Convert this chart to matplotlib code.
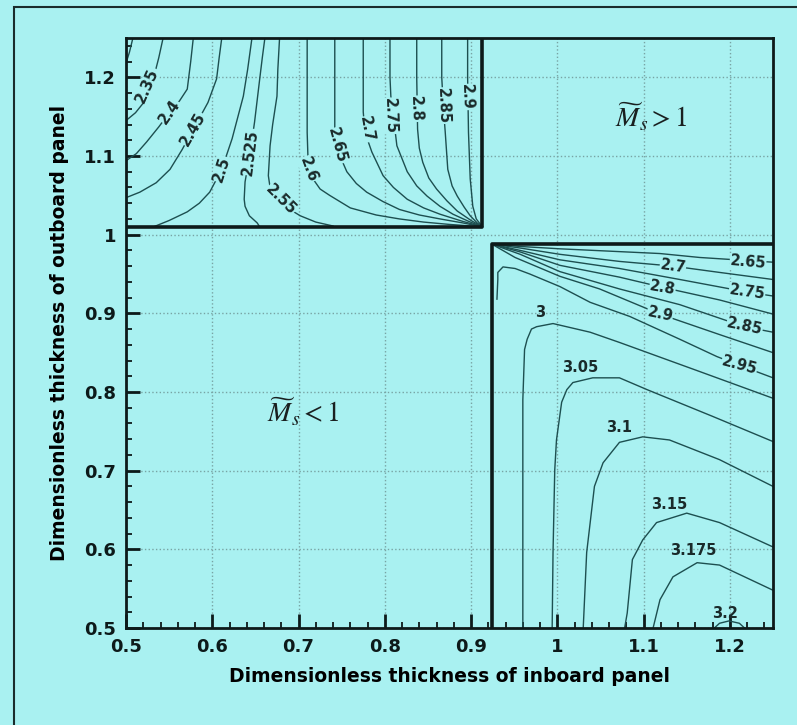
import matplotlib
matplotlib.use("Agg")
import matplotlib.pyplot as plt
from matplotlib.patches import Rectangle
from matplotlib.ticker import MultipleLocator

# --- data -----------------------------------------------------------------
# top-left region (Ms > 1 boundary): x 0.5..0.913, y 1.01..1.25
tl_box_x = [0.5, 0.913, 0.913]
tl_box_y = [1.01, 1.01, 1.25]
tl_levels = [2.3, 2.35, 2.4, 2.45, 2.5, 2.525, 2.55, 2.6, 2.65, 2.7, 2.75, 2.8, 2.85, 2.9]
tl_xs = [
    [0.508, 0.504, 0.500],
    [0.543, 0.538, 0.531, 0.522, 0.511, 0.500],
    [0.578, 0.575, 0.571, 0.562, 0.551, 0.538, 0.524, 0.512, 0.500],
    [0.611, 0.608, 0.605, 0.595, 0.578, 0.565, 0.551, 0.535, 0.516, 0.500],
    [0.646, 0.641, 0.636, 0.623, 0.611, 0.597, 0.585, 0.571, 0.550, 0.532],
    [0.661, 0.658, 0.655, 0.649, 0.644, 0.638, 0.637, 0.638, 0.643, 0.652, 0.655],
    [0.678, 0.676, 0.675, 0.670, 0.667, 0.665, 0.667, 0.675, 0.690, 0.702, 0.720, 0.740],
    [0.710, 0.710, 0.710, 0.711, 0.716, 0.725, 0.736, 0.760, 0.790, 0.817, 0.845, 0.875, 0.913],
    [0.742, 0.742, 0.742, 0.744, 0.750, 0.756, 0.767, 0.779, 0.798, 0.817, 0.840, 0.864, 0.890, 0.913],
    [0.775, 0.775, 0.775, 0.777, 0.785, 0.798, 0.810, 0.826, 0.845, 0.864, 0.890, 0.913],
    [0.806, 0.806, 0.807, 0.810, 0.814, 0.826, 0.837, 0.849, 0.864, 0.879, 0.897, 0.913],
    [0.837, 0.837, 0.838, 0.840, 0.844, 0.851, 0.860, 0.872, 0.884, 0.900, 0.913],
    [0.866, 0.866, 0.868, 0.870, 0.873, 0.878, 0.884, 0.892, 0.899, 0.907, 0.913],
    [0.896, 0.896, 0.897, 0.899, 0.902, 0.906, 0.913],
]
tl_ys = [
    [1.25, 1.232, 1.218],
    [1.25, 1.225, 1.195, 1.17, 1.155, 1.145],
    [1.25, 1.22, 1.185, 1.17, 1.156, 1.137, 1.118, 1.103, 1.094],
    [1.25, 1.225, 1.198, 1.168, 1.134, 1.108, 1.083, 1.066, 1.054, 1.047],
    [1.25, 1.21, 1.176, 1.122, 1.083, 1.054, 1.04, 1.029, 1.018, 1.01],
    [1.25, 1.225, 1.198, 1.143, 1.105, 1.067, 1.045, 1.036, 1.024, 1.015, 1.01],
    [1.25, 1.21, 1.176, 1.14, 1.113, 1.075, 1.06, 1.045, 1.032, 1.024, 1.016, 1.011],
    [1.25, 1.2, 1.13, 1.095, 1.072, 1.058, 1.05, 1.034, 1.025, 1.02, 1.016, 1.013, 1.01],
    [1.25, 1.2, 1.134, 1.113, 1.095, 1.08, 1.065, 1.054, 1.042, 1.032, 1.025, 1.02, 1.015, 1.01],
    [1.25, 1.2, 1.156, 1.13, 1.105, 1.075, 1.06, 1.045, 1.034, 1.026, 1.017, 1.01],
    [1.25, 1.2, 1.176, 1.15, 1.113, 1.08, 1.062, 1.049, 1.036, 1.026, 1.017, 1.01],
    [1.25, 1.2, 1.134, 1.11, 1.092, 1.072, 1.058, 1.043, 1.03, 1.018, 1.01],
    [1.25, 1.2, 1.16, 1.131, 1.083, 1.062, 1.049, 1.035, 1.024, 1.015, 1.01],
    [1.25, 1.2, 1.13, 1.071, 1.036, 1.02, 1.01],
]
tl_labels = ["2.35", "2.4", "2.45", "2.5", "2.525", "2.55", "2.6", "2.65", "2.7", "2.75", "2.8", "2.85", "2.9"]
tl_lab_x = [0.525, 0.551, 0.578, 0.611, 0.644, 0.680, 0.711, 0.745, 0.779, 0.806, 0.836, 0.867, 0.895]
tl_lab_y = [1.19, 1.156, 1.134, 1.083, 1.105, 1.045, 1.083, 1.113, 1.134, 1.151, 1.16, 1.164, 1.175]
tl_lab_rot = [66, 55, 60, 72, 83, -45, -70, -75, -80, -88, -88, -88, -88]

# bottom-right region (Ms > 1): x 0.924..1.25, y 0.5..0.988
br_box_x = [0.924, 0.924, 1.25]
br_box_y = [0.5, 0.988, 0.988]
br_levels = [2.65, 2.7, 2.75, 2.8, 2.85, 2.9, 2.95, 3.0, 3.05, 3.1, 3.15, 3.175, 3.2]
br_xs = [
    [0.924, 0.957, 1.003, 1.119, 1.165, 1.25],
    [0.924, 0.957, 1.003, 1.072, 1.134, 1.188, 1.25],
    [0.924, 0.957, 1.003, 1.072, 1.142, 1.22, 1.25],
    [0.924, 0.957, 1.003, 1.072, 1.122, 1.188, 1.25],
    [0.924, 0.957, 1.003, 1.072, 1.142, 1.217, 1.25],
    [0.924, 0.951, 1.003, 1.049, 1.119, 1.188, 1.25],
    [0.930, 0.931, 0.931, 0.937, 0.951, 0.968, 1.003, 1.038, 1.084, 1.142, 1.185, 1.211, 1.25],
    [0.960, 0.960, 0.960, 0.962, 0.965, 0.970, 0.976, 0.995, 1.038, 1.072, 1.165, 1.25],
    [0.994, 0.995, 0.997, 0.999, 1.005, 1.011, 1.018, 1.041, 1.072, 1.104, 1.180, 1.25],
    [1.030, 1.034, 1.043, 1.053, 1.072, 1.099, 1.130, 1.188, 1.25],
    [1.078, 1.081, 1.087, 1.099, 1.115, 1.150, 1.188, 1.25],
    [1.111, 1.119, 1.134, 1.162, 1.188, 1.25],
    [1.182, 1.188, 1.199, 1.211, 1.217],
]
br_ys = [
    [0.988, 0.985, 0.982, 0.976, 0.971, 0.965],
    [0.988, 0.983, 0.975, 0.966, 0.96, 0.952, 0.943],
    [0.988, 0.98, 0.968, 0.957, 0.943, 0.927, 0.922],
    [0.988, 0.978, 0.961, 0.946, 0.933, 0.917, 0.899],
    [0.988, 0.975, 0.953, 0.931, 0.911, 0.883, 0.876],
    [0.988, 0.971, 0.947, 0.931, 0.899, 0.873, 0.85],
    [0.918, 0.943, 0.952, 0.959, 0.957, 0.95, 0.934, 0.914, 0.896, 0.867, 0.845, 0.834, 0.818],
    [0.5, 0.663, 0.79, 0.854, 0.867, 0.88, 0.883, 0.887, 0.876, 0.863, 0.826, 0.792],
    [0.5, 0.596, 0.701, 0.739, 0.787, 0.803, 0.812, 0.818, 0.818, 0.803, 0.769, 0.737],
    [0.5, 0.596, 0.68, 0.71, 0.736, 0.743, 0.739, 0.714, 0.68],
    [0.5, 0.519, 0.587, 0.612, 0.634, 0.646, 0.634, 0.603],
    [0.5, 0.536, 0.565, 0.583, 0.58, 0.548],
    [0.5, 0.506, 0.509, 0.506, 0.5],
]
br_labels = ["2.65", "2.7", "2.75", "2.8", "2.85", "2.9", "2.95", "3", "3.05", "3.1", "3.15", "3.175", "3.2"]
br_lab_x = [1.221, 1.134, 1.22, 1.122, 1.217, 1.119, 1.211, 0.980, 1.026, 1.072, 1.130, 1.157, 1.194]
br_lab_y = [0.965, 0.960, 0.927, 0.933, 0.883, 0.899, 0.834, 0.901, 0.831, 0.755, 0.657, 0.599, 0.519]
br_lab_rot = [-5, -8, -8, -10, -12, -12, -15, 0, 0, 0, 0, 0, 0]
br_lab_box = [True, True, True, True, True, True, True, False, False, False, False, False, False]

bg = "#a9f1f1"
line_c = "#1d4f50"

plt.rcParams["font.family"] = ["DejaVu Sans"]
plt.rcParams["mathtext.fontset"] = "stix"

fig = plt.figure(figsize=(7.97, 7.25), dpi=100, facecolor=bg)
ax = fig.add_axes([0.1581, 0.1338, 0.8118, 0.8138], facecolor=bg)

# outer frame
fig.add_artist(Rectangle((14 / 797, -0.05), 1.1, 1 - 7 / 725 + 0.05,
                         transform=fig.transFigure, fill=False, lw=1.5,
                         ec="#1a2c2c", clip_on=False))

ax.set_xlim(0.5, 1.25)
ax.set_ylim(0.5, 1.25)
ax.xaxis.set_major_locator(MultipleLocator(0.1))
ax.yaxis.set_major_locator(MultipleLocator(0.1))
ax.xaxis.set_minor_locator(MultipleLocator(0.02))
ax.yaxis.set_minor_locator(MultipleLocator(0.02))
ax.grid(True, which="major", ls=":", lw=1.0, color="#78a4a4")
ax.set_axisbelow(True)

for xs, ys in zip(tl_xs, tl_ys):
    ax.plot(xs, ys, color=line_c, lw=1.0, zorder=2)
for xs, ys in zip(br_xs, br_ys):
    ax.plot(xs, ys, color=line_c, lw=1.0, zorder=2)

ax.plot(tl_box_x, tl_box_y, color="#0d1a1a", lw=2.6, zorder=4, solid_joinstyle="round")
ax.plot(br_box_x, br_box_y, color="#0d1a1a", lw=2.6, zorder=4, solid_joinstyle="round")

lab_font = dict(fontsize=10.5, fontweight="bold", color="#1a2a2a", ha="center", va="center")
for t, x, y, r in zip(tl_labels, tl_lab_x, tl_lab_y, tl_lab_rot):
    ax.text(x, y, t, rotation=r, rotation_mode="anchor", zorder=3,
            bbox=dict(fc=bg, ec="none", pad=0.2), **lab_font)
for t, x, y, r, b in zip(br_labels, br_lab_x, br_lab_y, br_lab_rot, br_lab_box):
    kw = dict(bbox=dict(fc=bg, ec="none", pad=0.2)) if b else {}
    ax.text(x, y, t, rotation=r, rotation_mode="anchor", zorder=3, **kw, **lab_font)

ax.text(1.109, 1.15, r"$\widetilde{M}_s > 1$", fontsize=20, ha="center", va="center", color="#1a2020")
ax.text(0.705, 0.775, r"$\widetilde{M}_s < 1$", fontsize=20, ha="center", va="center", color="#1a2020")

for s in ax.spines.values():
    s.set_linewidth(2.0)
    s.set_color("#0d1a1a")

ax.tick_params(which="both", direction="in", top=False, right=False, colors="#0d1a1a")
ax.tick_params(which="major", length=10, width=2.0, pad=7, labelsize=13)
ax.tick_params(which="minor", length=4.5, width=1.3)
ax.set_xticks([0.5, 0.6, 0.7, 0.8, 0.9, 1.0, 1.1, 1.2])
ax.set_xticklabels(["0.5", "0.6", "0.7", "0.8", "0.9", "1", "1.1", "1.2"], fontweight="bold")
ax.set_yticks([0.5, 0.6, 0.7, 0.8, 0.9, 1.0, 1.1, 1.2])
ax.set_yticklabels(["0.5", "0.6", "0.7", "0.8", "0.9", "1", "1.1", "1.2"], fontweight="bold")

ax.set_xlabel("Dimensionless thickness of inboard panel", fontsize=13.5, fontweight="bold", labelpad=8)
ax.set_ylabel("Dimensionless thickness of outboard panel", fontsize=13.5, fontweight="bold", labelpad=11)

fig.savefig("out.png", dpi=100, facecolor=bg)
